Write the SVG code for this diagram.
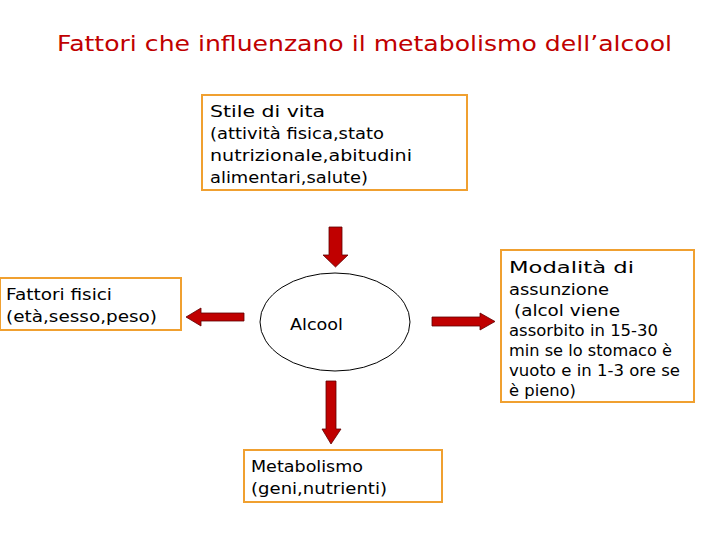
<svg xmlns="http://www.w3.org/2000/svg" width="728" height="546" viewBox="0 0 728 546">
<style>
.box{fill:#fff;stroke:#F0A030;stroke-width:2}
text{font-family:"DejaVu Sans",sans-serif}
.t{font-size:15.5px;fill:#000}
.ar{fill:#C00000;stroke:#600000;stroke-width:0.8}
</style>
<rect width="728" height="546" fill="#fff"/>
<text x="57" y="51" font-size="22" fill="#C00000" textLength="615" lengthAdjust="spacingAndGlyphs">Fattori che influenzano il metabolismo dell’alcool</text>
<g id="stile"><rect class="box" x="202" y="95" width="265" height="95"/>
<text class="t" x="210" y="117" textLength="115" lengthAdjust="spacingAndGlyphs">Stile di vita</text><text class="t" x="210" y="139" textLength="174" lengthAdjust="spacingAndGlyphs">(attività fisica,stato</text><text class="t" x="210" y="161" textLength="202" lengthAdjust="spacingAndGlyphs">nutrizionale,abitudini</text><text class="t" x="210" y="183" textLength="158" lengthAdjust="spacingAndGlyphs">alimentari,salute)</text></g>
<g id="fisici"><rect class="box" x="0" y="278" width="181" height="52"/>
<text class="t" x="6" y="300" textLength="106" lengthAdjust="spacingAndGlyphs">Fattori fisici</text><text class="t" x="6" y="322" textLength="151" lengthAdjust="spacingAndGlyphs">(età,sesso,peso)</text></g>
<g id="modalita"><rect class="box" x="501" y="250" width="193" height="152"/>
<text class="t" x="509" y="273" textLength="125" lengthAdjust="spacingAndGlyphs">Modalità di</text><text class="t" x="509" y="295" textLength="100" lengthAdjust="spacingAndGlyphs">assunzione</text>
<text class="t" x="514" y="316" textLength="106" lengthAdjust="spacingAndGlyphs">(alcol viene</text><text class="t" x="509" y="336" textLength="149" lengthAdjust="spacingAndGlyphs">assorbito in 15-30</text><text class="t" x="509" y="356" textLength="163" lengthAdjust="spacingAndGlyphs">min se lo stomaco è</text><text class="t" x="509" y="376" textLength="171" lengthAdjust="spacingAndGlyphs">vuoto e in 1-3 ore se</text><text class="t" x="509" y="396" textLength="67" lengthAdjust="spacingAndGlyphs">è pieno)</text></g>
<g id="metabolismo"><rect class="box" x="244" y="450" width="198" height="52"/>
<text class="t" x="251" y="472" textLength="112" lengthAdjust="spacingAndGlyphs">Metabolismo</text><text class="t" x="251" y="494" textLength="136" lengthAdjust="spacingAndGlyphs">(geni,nutrienti)</text></g>
<g id="alcool"><ellipse cx="335" cy="322" rx="75" ry="49" fill="#fff" stroke="#000" stroke-width="1"/>
<text class="t" x="290" y="330" textLength="53" lengthAdjust="spacingAndGlyphs">Alcool</text></g>
<g id="connectors">
<polygon class="ar" points="329,227 342,227 342,255 348,255 335.5,267 323,255 329,255"/>
<polygon class="ar" points="244,313 244,321 201,321 201,326 186,317 201,308 201,313"/>
<polygon class="ar" points="432,317 480,317 480,313 495,321.5 480,330 480,326 432,326"/>
<polygon class="ar" points="326,381 336,381 336,429 341,429 331,444 322,429 326,429"/>
</g>
</svg>
